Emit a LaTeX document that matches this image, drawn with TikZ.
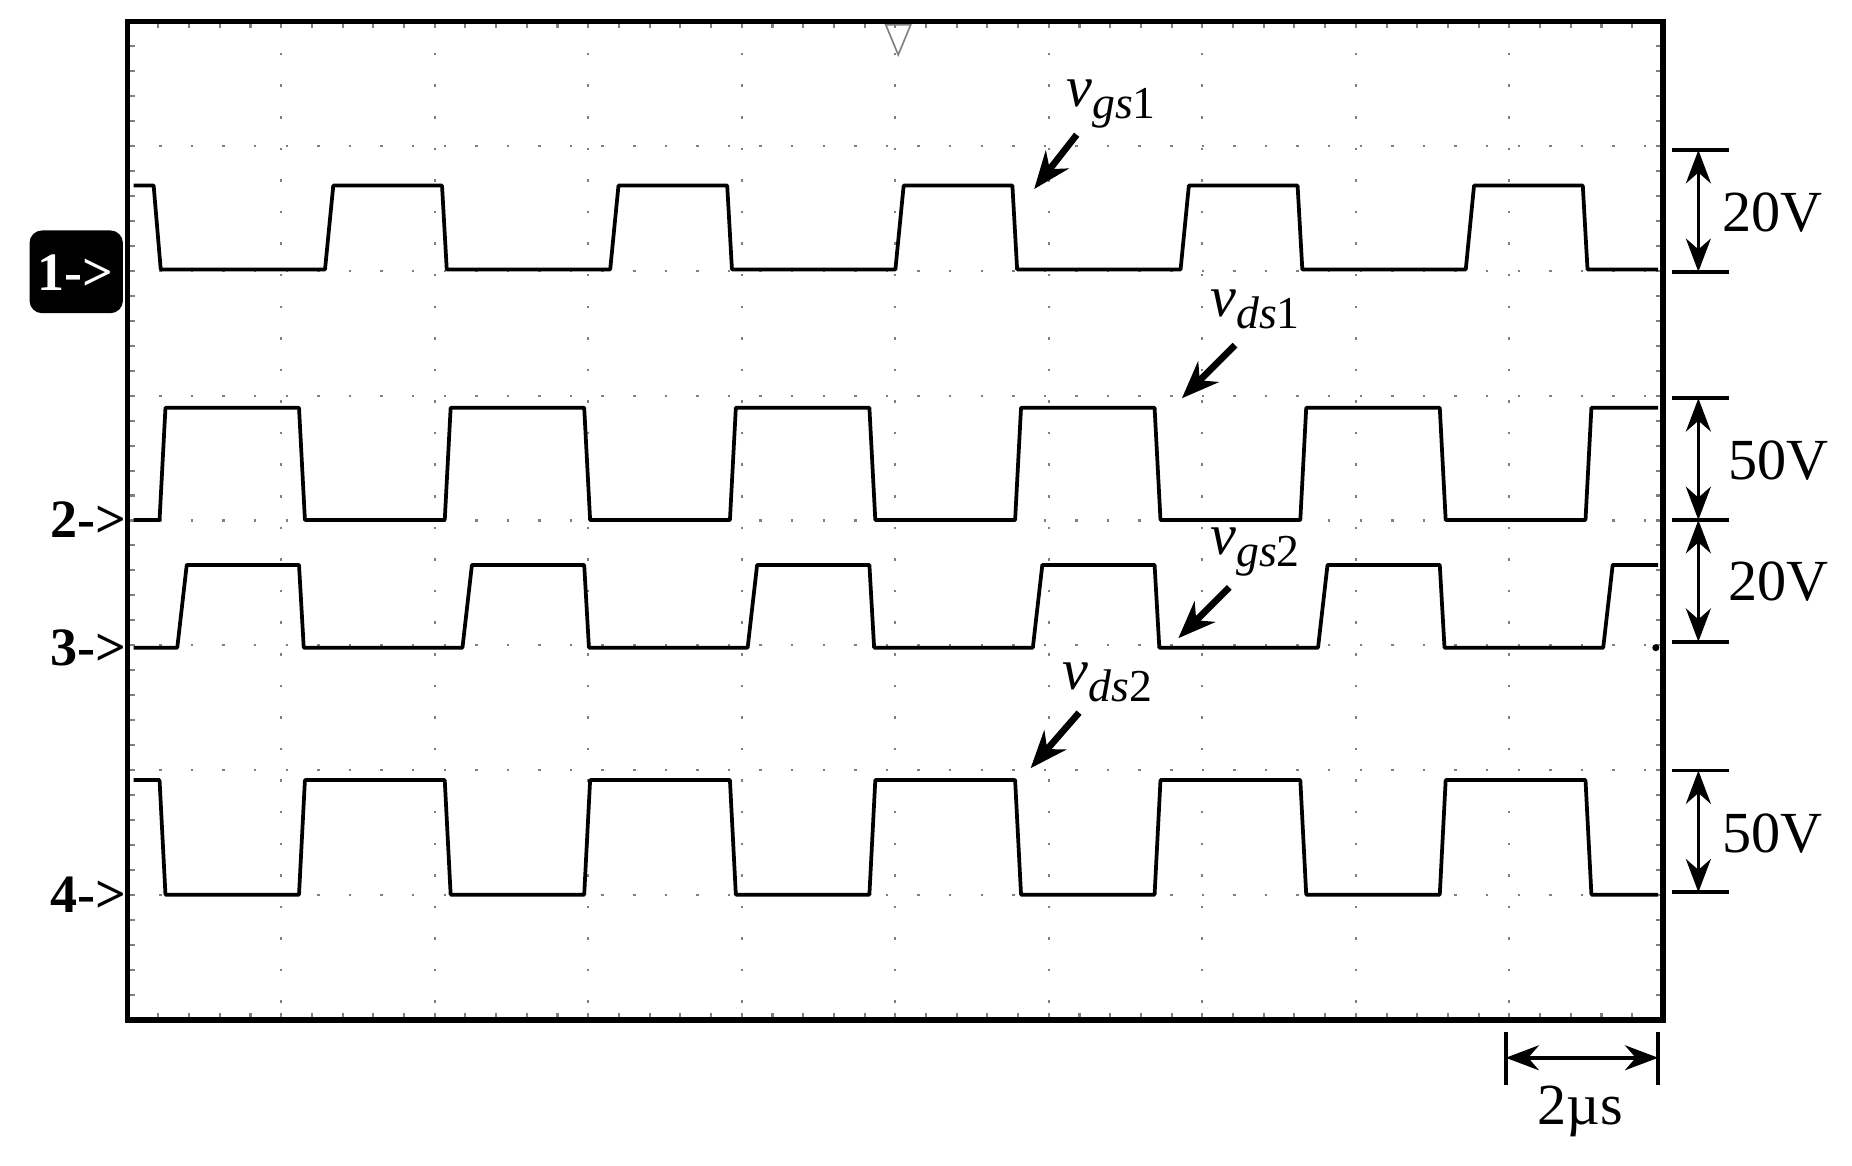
\documentclass[tikz,border=0pt]{standalone}
\usepackage{fontspec}
\setmainfont{Liberation Serif}
\usetikzlibrary{arrows.meta,shapes.geometric}
\begin{document}
\begin{tikzpicture}[x=0.01cm,y=-0.01cm,
  wave/.style={line width=0.9pt,line join=round},
  grid/.style={gray,line width=0.5pt,dash pattern=on 0.6pt off 7pt},
  lab/.style={font=\fontsize{14}{16}\selectfont,inner sep=0pt},
  ch/.style={font=\bfseries\fontsize{13}{15}\selectfont,inner sep=0pt},
  marr/.style={-{Stealth[length=9pt,width=7pt]},line width=1.6pt},
  darr/.style={{Stealth[length=8pt,width=6pt]}-{Stealth[length=8pt,width=6pt]},line width=0.9pt}]
\useasboundingbox (0,0) rectangle (1567,986);
% grid
\foreach \i in {1,...,9} \draw[grid] ({108+129.9*\i},18) -- ({108+129.9*\i},863);
\foreach \j in {1,...,7} \draw[grid] (108,{18+105.6*\j}) -- (1407,{18+105.6*\j});
\foreach \i in {0,...,49} {\draw[gray,line width=0.5pt] ({108+25.98*\i},18) -- ({108+25.98*\i},24);
  \draw[gray,line width=0.5pt] ({108+25.98*\i},863) -- ({108+25.98*\i},857);}
\foreach \j in {0,...,39} {\draw[gray,line width=0.5pt] (108,{18+21.12*\j}) -- (114,{18+21.12*\j});
  \draw[gray,line width=0.5pt] (1407,{18+21.12*\j}) -- (1401,{18+21.12*\j});}
\node[draw,gray,isosceles triangle,shape border rotate=-90,minimum size=6pt,inner sep=0pt] (trig) at (760,28) {};
% waves
\begin{scope}
\clip (113,18) rectangle (1403,863);
\draw[wave] (113,157) -- (130,157) -- (136,228) foreach \k in {0,...,5} {
  -- ({275+241.3*\k},228) -- ({282+241.3*\k},157) -- ({374+241.3*\k},157) -- ({378+241.3*\k},228)};
\draw[wave] (113,440) foreach \k in {0,...,5} {
  -- ({135+241.3*\k},440) -- ({140+241.3*\k},345) -- ({253+241.3*\k},345) -- ({258+241.3*\k},440)};
\draw[wave] (113,548) foreach \k in {0,...,5} {
  -- ({150+241.3*\k},548) -- ({158+241.3*\k},478) -- ({253+241.3*\k},478) -- ({257+241.3*\k},548)};
\draw[wave] (113,660) foreach \k in {0,...,5} {
  -- ({135+241.3*\k},660) -- ({140+241.3*\k},757) -- ({253+241.3*\k},757) -- ({258+241.3*\k},660)};
\end{scope}
\fill (1401,548) circle (3);
\draw[line width=1.3pt] (108,18) rectangle (1407,863);
% labels
\node[lab] (l1) at (940,88) {\textit{v}\raisebox{-0.45ex}{\fontsize{11}{12}\selectfont\textit{gs}1}};
\node[lab] (l2) at (1062,262) {\textit{v}\raisebox{-0.45ex}{\fontsize{11}{12}\selectfont\textit{ds}1}};
\node[lab] (l3) at (1062,467) {\textit{v}\raisebox{-0.45ex}{\fontsize{11}{12}\selectfont\textit{gs}2}};
\node[lab] (l4) at (937,577) {\textit{v}\raisebox{-0.45ex}{\fontsize{11}{12}\selectfont\textit{ds}2}};
\coordinate (a1) at (875,160); \coordinate (a2) at (1000,337);
\coordinate (a3) at (997,540); \coordinate (a4) at (872,650);
\draw[marr] (911,114) -- (a1);
\draw[marr] (1045,292) -- (a2);
\draw[marr] (1040,497) -- (a3);
\draw[marr] (913,603) -- (a4);
% scale bars
\foreach \y in {127,230,337,440,543,652,755} \draw[line width=0.9pt] (1415,\y) -- (1463,\y);
\draw[darr] (1437,127) -- (1437,230);
\draw[darr] (1437,337) -- (1437,440);
\draw[darr] (1437,440) -- (1437,543);
\draw[darr] (1437,652) -- (1437,755);
\node[lab] (v1) at (1500,180) {20V};
\node[lab] (v2) at (1505,390) {50V};
\node[lab] (v3) at (1505,492) {20V};
\node[lab] (v4) at (1500,705) {50V};
\draw[line width=0.9pt] (1274,873) -- (1274,918) (1403,873) -- (1403,918);
\draw[darr] (1274,895) -- (1403,895);
\node[lab] (t) at (1337,940) {2\textmu s};
% channel markers
\fill[rounded corners=3pt] (25,195) rectangle (104,265);
\node[ch,text=white] (c1) at (64,231) {1-\textbf{>}};
\node[ch] (c2) at (75,440) {2-\textbf{>}};
\node[ch] (c3) at (75,548) {3-\textbf{>}};
\node[ch] (c4) at (75,757) {4-\textbf{>}};
\end{tikzpicture}
\end{document}
